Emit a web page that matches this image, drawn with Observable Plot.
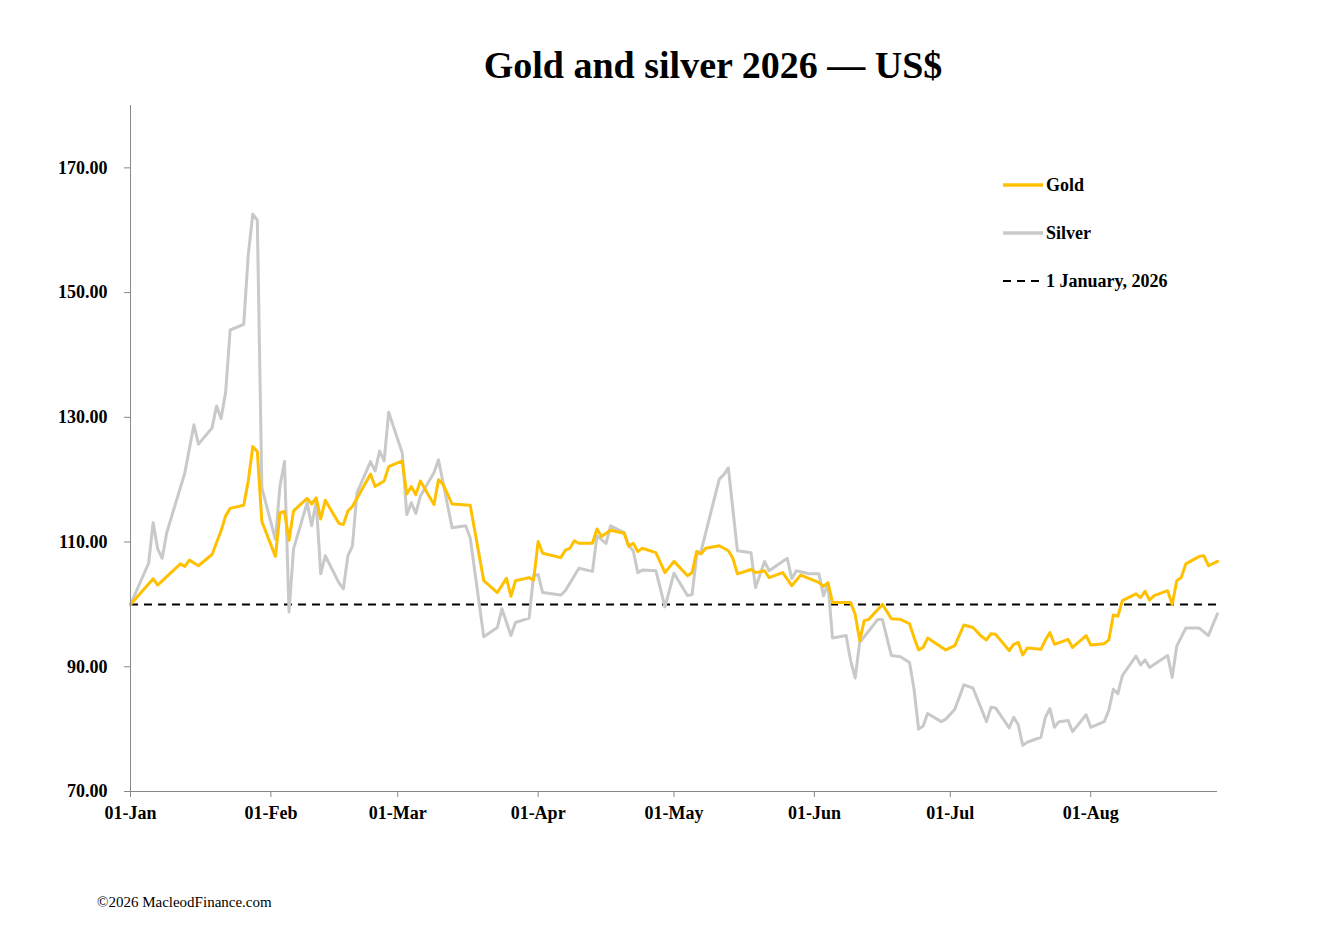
<!DOCTYPE html>
<html>
<head>
<meta charset="utf-8">
<script src="https://cdn.jsdelivr.net/npm/d3@7"></script>
<script src="https://cdn.jsdelivr.net/npm/@observablehq/plot@0.6"></script>
<style>
  body { margin: 0; background: #fff; font-family: "Liberation Serif", "DejaVu Serif", serif; color: #000; }
  #wrap { position: relative; width: 1324px; height: 936px; overflow: hidden; }
  #title { position: absolute; top: 44px; left: 102px; width: 1222px; text-align: center; font-size: 38px; font-weight: bold; line-height: 42px; }
  #chart { position: absolute; top: 100px; left: 0; }
  #caption { position: absolute; left: 97px; top: 893px; font-size: 15px; line-height: 18px; }
  .leg { position: absolute; left: 1003px; height: 22px; line-height: 22px; font-size: 18px; font-weight: bold; display: flex; align-items: center; }
  .leg svg { margin-right: 3px; }
</style>
</head>
<body>
<div id="wrap">
  <div id="title">Gold and silver 2026 — US$</div>
  <div id="chart"></div>
  <div id="legend"></div>
  <div id="caption">©2026 MacleodFinance.com</div>
</div>
<script>
// Days since 1 January 2026, and indexed prices (1 January 2026 = 100)
const goldDay = [0,5,6,11,12,13,15,18,20,21,22,25,26,27,28,29,32,33,34,35,36,39,40,41,42,43,46,47,48,49,53,54,56,57,60,61,62,63,64,67,68,69,71,75,78,81,83,84,85,88,89,90,91,95,96,97,98,99,102,103,104,106,109,110,111,112,113,116,118,120,123,124,125,126,127,130,132,133,134,137,138,140,141,144,146,148,151,152,153,154,155,159,160,161,162,163,166,168,170,172,173,174,175,176,180,182,184,186,188,189,190,191,194,195,196,197,198,201,202,203,204,207,208,211,212,215,216,217,218,219,222,223,224,225,226,229,230,231,232,233,236,237,238,240];
const goldValue = [100,104.1,103.1,106.5,106.1,107.1,106.2,108.0,111.8,114.2,115.4,115.9,119.8,125.3,124.5,113.3,107.7,114.7,114.9,110.3,115.0,117.0,116.1,117.1,113.7,116.7,113.0,112.8,115.0,115.7,120.9,118.9,119.8,122.1,123.0,117.7,118.9,117.6,119.8,116.0,120.0,119.3,116.1,115.9,103.8,101.9,104.2,101.3,103.8,104.3,103.9,110.1,108.2,107.5,108.7,109.0,110.2,109.8,109.8,112.1,110.9,111.9,111.4,109.3,109.8,108.5,109.0,108.3,105.1,106.9,104.6,105.1,108.5,108.1,109.0,109.4,108.6,107.4,104.9,105.6,105.1,105.4,104.3,105.1,103.0,104.7,103.8,103.5,102.9,103.5,100.3,100.3,98.4,94.2,97.4,97.6,100.0,97.7,97.6,96.9,94.7,92.7,93.1,94.6,92.7,93.4,96.7,96.3,94.8,94.3,95.3,95.2,92.6,93.6,93.9,91.9,93.0,92.8,94.3,95.5,93.6,94.4,93.1,95.0,93.5,93.7,94.3,98.3,98.1,100.6,101.7,101.1,102.1,100.7,101.4,102.2,100.0,103.8,104.3,106.5,107.7,107.8,106.2,106.9];

const silverDay = [0,4,5,6,7,8,12,14,15,18,19,20,21,22,25,26,27,28,29,32,33,34,35,36,39,40,41,42,43,46,47,48,49,50,53,54,55,56,57,60,61,62,63,64,67,68,71,74,75,78,81,82,84,85,88,89,90,91,95,96,99,102,103,105,106,109,110,111,112,113,116,118,120,123,124,125,126,130,131,132,134,137,138,140,141,145,146,147,150,152,153,154,155,158,159,160,161,165,166,168,170,172,173,174,175,176,179,180,182,184,186,189,190,191,194,195,196,197,198,201,202,203,204,205,207,208,211,212,215,216,217,218,219,222,223,224,225,229,230,231,233,236,238,239,240];
const silverValue = [100,106.6,113.1,108.9,107.4,111.5,121.1,128.8,125.7,128.3,131.8,129.8,134.0,144.0,144.9,156.1,162.6,161.6,118.7,110.4,119.0,122.9,98.8,108.9,116.3,112.6,116.5,104.9,107.8,103.5,102.5,107.8,109.4,117.9,122.9,121.4,124.6,123.0,130.8,124.3,114.4,116.3,114.6,117.4,121.1,123.2,112.3,112.6,110.7,94.8,96.3,99.3,95.0,97.1,97.8,104.6,104.8,101.9,101.5,102.2,105.8,105.3,111.0,109.8,112.6,111.5,109.4,108.6,105.1,105.5,105.4,99.6,105.0,101.4,101.6,107.8,108.6,120.1,120.8,121.9,108.6,108.3,102.7,106.9,105.4,107.4,104.1,105.4,104.9,104.9,101.4,103.3,94.6,95.0,91.0,88.2,93.9,97.6,97.6,91.8,91.6,90.7,86.4,80.0,80.5,82.5,81.2,81.6,83.2,87.1,86.6,81.2,83.5,83.4,80.2,81.9,80.7,77.4,77.9,78.7,81.9,83.3,80.3,81.2,81.4,79.6,82.3,80.3,81.2,83.0,86.4,85.7,88.6,91.7,90.3,91.1,89.9,91.8,88.3,93.3,96.2,96.2,95.0,96.8,98.5];

const baseline = 100;
const yTicks = [70, 90, 110, 130, 150, 170];
const yDomain = [70, 180];
const xTickLabels = ["01-Jan","01-Feb","01-Mar","01-Apr","01-May","01-Jun","01-Jul","01-Aug"];
const lastDay = 240;

const legendItems = [
  {label: "Gold", color: "#FFC000", dash: null, top: 174},
  {label: "Silver", color: "#C9C9C9", dash: null, top: 222},
  {label: "1 January, 2026", color: "#000", dash: "8,6", top: 270}
];

const start = new Date(Date.UTC(2026, 0, 1));
const toDate = d => d3.utcDay.offset(start, d);
const gold = goldDay.map((d, i) => ({date: toDate(d), value: goldValue[i]}));
const silver = silverDay.map((d, i) => ({date: toDate(d), value: silverValue[i]}));
const xTicks = d3.utcMonth.range(start, new Date(Date.UTC(2026, 8, 1)));

const font = '"Liberation Serif", "DejaVu Serif", serif';
const chart = Plot.plot({
  width: 1324,
  height: 731,
  marginLeft: 130,
  marginRight: 107,
  marginTop: 5,
  marginBottom: 40,
  style: {fontFamily: font, fontSize: "18px", fontWeight: "bold", color: "#000", background: "transparent"},
  x: {type: "utc", domain: [start, toDate(lastDay)]},
  y: {domain: yDomain},
  marks: [
    Plot.ruleY([baseline], {stroke: "#000", strokeWidth: 2, strokeDasharray: "8,6"}),
    Plot.lineY(silver, {x: "date", y: "value", stroke: "#C9C9C9", strokeWidth: 3, curve: "linear"}),
    Plot.lineY(gold, {x: "date", y: "value", stroke: "#FFC000", strokeWidth: 3, curve: "linear"}),
    Plot.axisY({ticks: yTicks, tickFormat: d3.format(".2f"), tickSize: 6, tickPadding: 17, stroke: "#888", fill: "#000", label: null}),
    Plot.axisX({ticks: xTicks, tickFormat: (d, i) => xTickLabels[i], tickSize: 6, tickPadding: 9, stroke: "#888", fill: "#000", label: null}),
    Plot.ruleX([start], {stroke: "#888", strokeWidth: 1}),
    Plot.ruleY([yDomain[0]], {stroke: "#888", strokeWidth: 1})
  ]
});
document.getElementById("chart").append(chart);

const leg = document.getElementById("legend");
for (const it of legendItems) {
  const div = document.createElement("div");
  div.className = "leg";
  div.style.top = it.top + "px";
  const dash = it.dash ? `stroke-dasharray="8,6" stroke-width="2"` : `stroke-width="3.5"`;
  div.innerHTML = `<svg width="40" height="10"><line x1="0" x2="40" y1="5" y2="5" stroke="${it.color}" ${dash}/></svg><span>${it.label}</span>`;
  leg.append(div);
}
</script>
</body>
</html>
